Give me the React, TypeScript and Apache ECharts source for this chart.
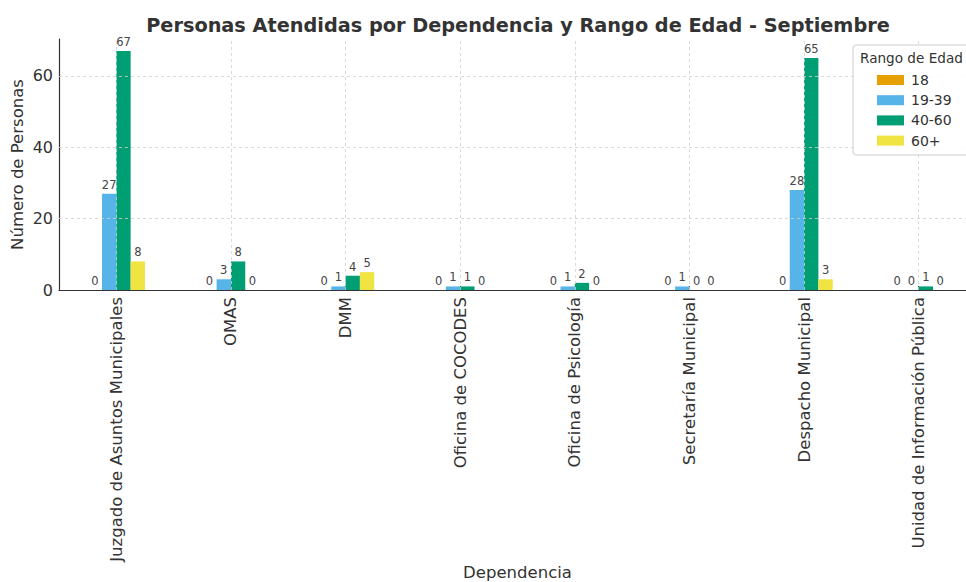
import React, { useEffect, useRef } from "react";
import * as echarts from "echarts";

const categories = [
  "Juzgado de Asuntos Municipales",
  "OMAS",
  "DMM",
  "Oficina de COCODES",
  "Oficina de Psicología",
  "Secretaría Municipal",
  "Despacho Municipal",
  "Unidad de Información Pública",
];
const seriesNames = ["18", "19-39", "40-60", "60+"];
const age18 = [0, 0, 0, 0, 0, 0, 0, 0];
const age19to39 = [27, 3, 1, 1, 1, 1, 28, 0];
const age40to60 = [67, 8, 4, 1, 2, 0, 65, 1];
const age60plus = [8, 0, 5, 0, 0, 0, 3, 0];
const yTicks = [0, 20, 40, 60];
const colors = ["#E69F00", "#56B4E9", "#009E73", "#F0E442"];

const FONT = "DejaVu Sans";

export default function App() {
  const ref = useRef<HTMLDivElement>(null);
  useEffect(() => {
    if (!ref.current) return;
    const chart = echarts.init(ref.current, undefined, { renderer: "svg" });
    const values = [age18, age19to39, age40to60, age60plus];
    const barSeries = values.map((d, i) => ({
      name: seriesNames[i],
      type: "bar",
      data: d,
      barWidth: "12.5%",
      barGap: "0%",
      itemStyle: { color: colors[i] },
      z: 3,
      label: {
        show: true,
        position: "top",
        distance: 3,
        fontSize: 11.5,
        color: "#444",
        fontFamily: FONT,
      },
    }));
    const gridLineStyle = { color: "#d0d0d0", type: [3, 3], width: 0.8 };
    chart.setOption({
      animation: false,
      textStyle: { fontFamily: FONT },
      title: {
        text: "Personas Atendidas por Dependencia y Rango de Edad - Septiembre",
        left: 513,
        textAlign: "center",
        top: 11,
        textStyle: { fontSize: 19.3, fontWeight: "bold", color: "#333", fontFamily: FONT },
      },
      legend: {
        orient: "vertical",
        left: 872,
        top: 68,
        itemWidth: 27,
        itemHeight: 10,
        itemGap: 6.2,
        icon: "rect",
        data: seriesNames,
        textStyle: { fontSize: 14, color: "#333", fontFamily: FONT, padding: [0, 0, 0, 2] },
        z: 10,
      },
      graphic: [
        {
          type: "rect",
          shape: { x: 853, y: 45, width: 130, height: 110, r: 3 },
          style: { fill: "rgba(255,255,255,0.85)", stroke: "#cccccc", lineWidth: 1 },
          z: 8,
        },
        {
          type: "text",
          x: 860,
          y: 51,
          style: { text: "Rango de Edad", fontSize: 13.6, fill: "#333", fontFamily: FONT },
          z: 9,
        },
      ],
      grid: {
        left: 59,
        right: -10,
        top: 39,
        bottom: 292,
        containLabel: false,
        outerBoundsMode: "none",
      },
      xAxis: {
        type: "category",
        data: categories,
        name: "Dependencia",
        nameLocation: "middle",
        nameGap: 274,
        nameMoveOverlap: false,
        nameTextStyle: { fontSize: 16.5, color: "#333", fontFamily: FONT },
        axisLine: { show: true, lineStyle: { color: "#333", width: 1.2 } },
        axisTick: { show: true, alignWithLabel: true, inside: true, length: 4, lineStyle: { color: "#333" } },
        axisLabel: { rotate: 90, fontSize: 16.5, color: "#333", margin: 7, fontFamily: FONT, interval: 0 },
        splitLine: { show: false },
      },
      yAxis: {
        type: "value",
        min: 0,
        max: 70.35,
        interval: 20,
        name: "Número de Personas",
        nameLocation: "middle",
        nameGap: 33,
        nameMoveOverlap: false,
        nameRotate: 90,
        nameTextStyle: { fontSize: 16.5, color: "#333", fontFamily: FONT },
        axisLine: { show: true, lineStyle: { color: "#333", width: 1.2 } },
        axisTick: { show: false },
        axisLabel: {
          fontSize: 16,
          color: "#333",
          margin: 6,
          fontFamily: FONT,
          formatter: (v: number) => (yTicks.includes(v) ? String(v) : ""),
        },
        splitLine: { show: false },
      },
      series: [
        {
          type: "line",
          data: [],
          silent: true,
          z: 1,
          markLine: {
            silent: true,
            symbol: "none",
            label: { show: false },
            lineStyle: gridLineStyle,
            data: [
              ...categories.map((c) => ({ xAxis: c })),
              ...yTicks.filter((t) => t > 0).map((t) => ({ yAxis: t })),
            ],
          },
        },
        ...barSeries,
      ],
    });
    return () => chart.dispose();
  }, []);
  return (
    <div
      ref={ref}
      style={{ position: "absolute", left: 0, top: 0, width: 966, height: 582, background: "#fff" }}
    />
  );
}
